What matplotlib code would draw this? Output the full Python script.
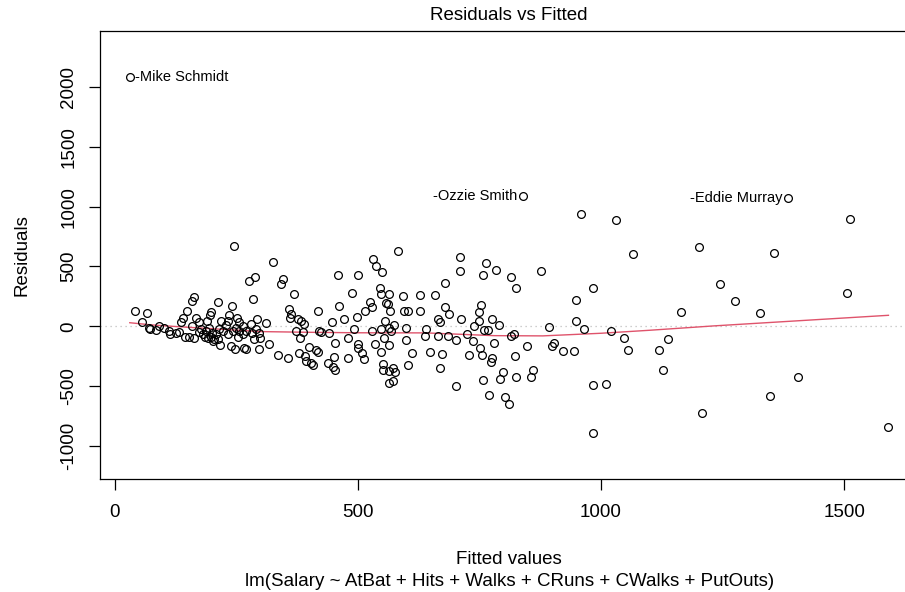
import matplotlib
matplotlib.use("Agg")
import matplotlib.pyplot as plt

plt.rcParams["font.family"] = ["Liberation Sans", "DejaVu Sans"]

# Fitted values and residuals of lm(Salary ~ AtBat + Hits + Walks + CRuns + CWalks + PutOuts)
fitted = [
    42, 66, 56, 70, 73, 92, 85, 112, 114, 127, 136, 140, 148, 158, 162, 159, 167, 174, 189, 196,
    212, 145, 164, 174, 182, 188, 191, 200, 205, 217, 223, 228, 241, 236, 246, 251, 256, 263, 239, 248,
    266, 270, 233, 243, 253, 270, 276, 289, 285, 293, 280, 282, 287, 299, 296, 311, 318, 325, 335, 345,
    342, 356, 358, 363, 361, 368, 376, 373, 378, 380, 383, 390, 388, 392, 393, 400, 404, 407, 413, 417,
    418, 421, 424, 441, 447, 452, 450, 438, 448, 452, 459, 461, 472, 479, 479, 178, 186, 198, 208, 215,
    194, 202, 212, 153, 133, 102, 219, 198, 233, 249, 256, 263, 291, 297,
    488, 501, 498, 491, 500, 501, 508, 512, 515, 525, 530, 532, 537, 550, 546, 548, 565, 558, 561, 566,
    582, 530, 536, 548, 555, 553, 548, 565, 568, 575, 565, 551, 551, 565, 573, 577, 573, 565, 592, 594,
    603, 599, 599, 611, 604, 627, 628, 641, 637, 648, 659, 664, 669, 679, 679, 687, 664, 672, 669, 686,
    701, 701, 709, 709, 712, 725, 728, 737, 738, 750, 750, 753, 751, 755, 758, 758, 764, 760, 767, 776,
    780, 776, 773, 769, 783, 791, 798, 793, 803, 810, 815, 825, 815, 820, 823, 825, 847, 857, 861, 877,
    892, 899, 904, 921, 944,
    958, 1030, 1065, 983, 949, 949, 964, 1020, 1048, 1055, 1120, 1137, 1164, 1127, 983, 1010, 983, 1201,
    1355, 1244, 1275, 1327, 1512, 1505, 1207, 1347, 1404, 1590,
    31, 839, 1385,
]
residuals = [
    131, 114, 40, -15, -24, 4, -30, -38, -61, -52, 32, 69, 125, 209, 243, 4, 69, 32, 46, 97,
    206, -89, -99, -44, -61, -38, -94, -52, -108, -156, -38, 13, 173, 94, 670, 69, 40, 4, -164, -192,
    -179, -192, -61, -38, -89, -38, 375, 411, 232, 61, 19, -52, -108, -99, -192, 24, -150, 538, -243, 392,
    356, -263, 145, 103, 69, 271, 61, -38, -221, -99, 46, 19, -46, -249, -291, -173, -305, -319, -201, -212,
    125, -38, -44, -52, 32, -136, -255, -305, -341, -369, 432, 173, 61, -94, -263, -24, -89, -89, -66, -24,
    -10, -122, -108, -89, -44, -10, 46, 116, 46, -10, -38, -66, -24, -52,
    282, 432, 80, -24, -145, -184, -221, -271, 131, 206, 159, 561, 502, 451, 322, 271, 271, 192, 187, 125,
    628, -38, -145, -24, 46, -94, -212, -15, -38, 13, -156, -313, -361, -375, -352, -381, -458, -475, 251, 131,
    131, -15, -114, -226, -325, 263, 131, -24, -80, -212, 263, 61, 40, 361, 164, 103, -80, -234, -352, -80,
    -114, -502, 580, 459, 63, -66, -243, -122, 4, 46, 116, 181, -179, -243, -447, 432, 529, -32, -32, 61,
    -136, -263, -297, -570, 468, 13, -381, -443, -590, -650, 411, 322, -80, -66, -246, -423, -164, -423, -361, 459,
    -7, -164, -141, -204, -204,
    937, 886, 600, 320, 222, 46, -25, -35, -94, -195, -195, -104, 123, -361, -494, -483, -894, 659,
    609, 352, 212, 114, 895, 282, -728, -582, -423, -844,
    2081, 1089, 1070,
]

# Players flagged with the largest residuals
flag_names = ["-Mike Schmidt", "-Ozzie Smith", "-Eddie Murray"]
flag_fitted = [31, 839, 1385]
flag_resid = [2081, 1089, 1070]
flag_side = ["right", "left", "left"]

# Smoothed trend of the residuals
smooth_x = [31, 75, 130, 200, 300, 400, 500, 640, 780, 880, 1000, 1100, 1230, 1400, 1591]
smooth_y = [30, 12, -3, -20, -44, -50, -54, -55, -78, -80, -58, -33, 3, 45, 92]

x_ticks = [0, 500, 1000, 1500]
y_ticks = [-1000, -500, 0, 500, 1000, 1500, 2000]

W, H = 905, 592
fig = plt.figure(figsize=(W / 100, H / 100), dpi=100)
# plot region runs past the right edge of the canvas
left, right, top, bottom = 99.7, 918.6, 31, 479.3
ax = fig.add_axes([left / W, 1 - bottom / H, (right - left) / W, (bottom - top) / H])

ax.axhline(0, color="#BEBEBE", lw=0.9, ls=(0, (1, 3)), zorder=1)
ax.plot(fitted, residuals, "o", mfc="none", mec="black", ms=5.6, mew=0.9, zorder=3)
ax.plot(smooth_x, smooth_y, color="#DF536B", lw=1.0, zorder=2)

for name, fx, fy, side in zip(flag_names, flag_fitted, flag_resid, flag_side):
    if side == "right":
        ax.annotate(name, (fx, fy), xytext=(4, 0), textcoords="offset points",
                    ha="left", va="center", fontsize=10.5)
    else:
        ax.annotate(name, (fx, fy), xytext=(-4, 0), textcoords="offset points",
                    ha="right", va="center", fontsize=10.5)

ax.set_xlim(-30.9, 1653)
ax.set_ylim(-1278, 2467)
ax.set_xticks(x_ticks)
ax.set_yticks(y_ticks)
ax.set_xticklabels([str(v) for v in x_ticks])
ax.set_yticklabels([str(v) for v in y_ticks], rotation=90, va="center")
ax.tick_params(axis="both", direction="out", length=8, width=0.9, labelsize=13.5, color="black")
ax.tick_params(axis="x", pad=10)
ax.tick_params(axis="y", pad=8)
for s in ax.spines.values():
    s.set_linewidth(0.9)

cx = (left + right) / 2 / W
fig.text(cx, 1 - 16 / H, "Residuals vs Fitted", ha="center", va="center", fontsize=13.5)
fig.text(cx, 1 - 559 / H, "Fitted values", ha="center", va="center", fontsize=13.5)
fig.text(cx, 1 - 581 / H, "lm(Salary ~ AtBat + Hits + Walks + CRuns + CWalks + PutOuts)",
         ha="center", va="center", fontsize=13.5)
fig.text(22 / W, 1 - ((top + bottom) / 2) / H, "Residuals", ha="center", va="center",
         rotation=90, fontsize=13.5)

fig.savefig("out.png", dpi=100)
